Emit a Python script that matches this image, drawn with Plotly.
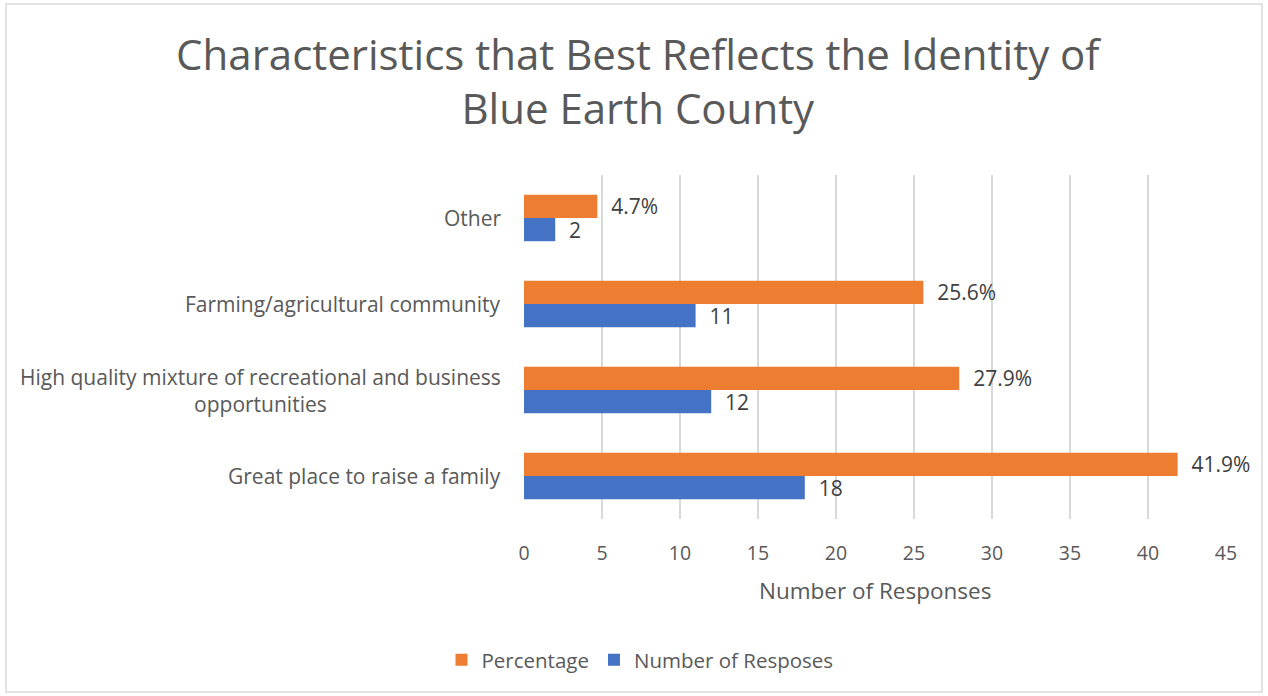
import plotly.graph_objects as go

categories = ["Great place to raise a family",
              "High quality mixture of recreational and business<br>opportunities",
              "Farming/agricultural community",
              "Other"]
responses = [18, 12, 11, 2]
percentages = [41.9, 27.9, 25.6, 4.7]
x_ticks = [0, 5, 10, 15, 20, 25, 30, 35, 40, 45]

FONT = "'Open Sans', sans-serif"
GRAY = "#595959"
LBL = "#404040"
pad = "\u00a0\u00a0"

W, H = 1268, 696
L, R, T, B = 524, 42, 175, 177
PH = H - T - B
PW = W - L - R

fig = go.Figure()
fig.add_trace(go.Bar(
    y=categories, x=responses, orientation="h", name="Number of Resposes",
    marker=dict(color="#4472C4", line=dict(width=0)),
    text=[pad + str(v) for v in responses], textposition="outside", constraintext="none",
    textfont=dict(size=21, color=LBL, family=FONT), cliponaxis=False,
))
fig.add_trace(go.Bar(
    y=categories, x=percentages, orientation="h", name="Percentage",
    marker=dict(color="#ED7D31", line=dict(width=0)),
    text=[pad + f"{v}%" for v in percentages], textposition="outside", constraintext="none",
    textfont=dict(size=21, color=LBL, family=FONT), cliponaxis=False,
))

for c in categories:
    fig.add_annotation(x=0, xref="paper", xshift=-21, xanchor="right", y=c, yref="y",
                       text=c, showarrow=False, align="center",
                       font=dict(size=21, color=GRAY, family=FONT))

fig.add_annotation(x=0.5, xref="paper", y=-(590 - (H - B)) / PH, yref="paper",
                   xanchor="center", yanchor="middle", text="Number of Responses",
                   showarrow=False, font=dict(size=22.5, color=GRAY, family=FONT))

fig.update_layout(
    width=W, height=H,
    paper_bgcolor="white", plot_bgcolor="white",
    margin=dict(l=L, r=R, t=T, b=B),
    barmode="group", bargap=0.46, bargroupgap=0,
    title=dict(text="Characteristics that Best Reflects the Identity of<br>Blue Earth County",
               x=0.503, xanchor="center", y=0.9, yanchor="top",
               font=dict(size=42, color=GRAY, family=FONT)),
    font=dict(family=FONT, color=GRAY),
    legend=dict(orientation="h", x=(640 - L) / PW, xanchor="center", y=-(660 - (H - B)) / PH,
                yanchor="middle", traceorder="reversed",
                font=dict(size=20.5, color=GRAY, family=FONT), itemwidth=30),
    showlegend=True,
    xaxis=dict(range=[0, 45], tickvals=x_ticks, showgrid=True, gridcolor="#d9d9d9",
               gridwidth=2, zeroline=False, showline=False,
               ticks="outside", ticklen=17, tickcolor="rgba(0,0,0,0)",
               tickfont=dict(size=19.5, color=GRAY, family=FONT)),
    yaxis=dict(showticklabels=False, showgrid=False, zeroline=False, showline=False,
               categoryorder="array", categoryarray=categories),
    shapes=[dict(type="rect", xref="paper", yref="paper",
                 x0=-(L - 6) / PW, x1=1 + (1262 - (W - R)) / PW,
                 y0=-(692 - (H - B)) / PH, y1=1 + (T - 4) / PH,
                 line=dict(color="#d9d9d9", width=1.5))],
)

fig.write_html("out.html", config={"displayModeBar": False},
               post_script="document.body.style.margin='0';")
